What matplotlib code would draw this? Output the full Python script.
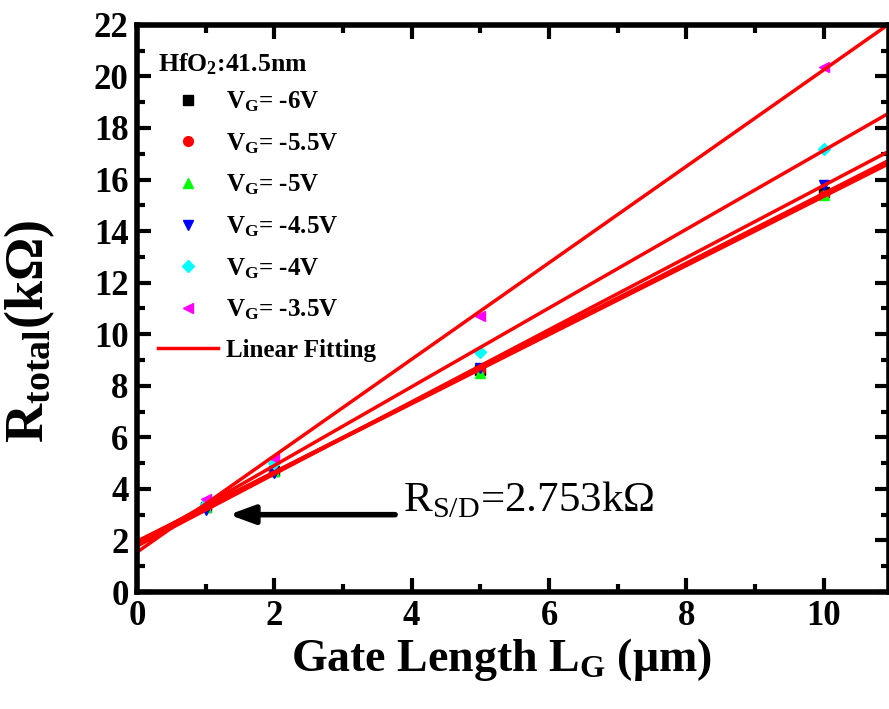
import numpy as np
import matplotlib
matplotlib.use('Agg')
import matplotlib.pyplot as plt
from matplotlib.ticker import MultipleLocator

plt.rcParams['font.family'] = ['Liberation Serif', 'DejaVu Serif']
plt.rcParams['font.weight'] = 'bold'
plt.rcParams['mathtext.fontset'] = 'custom'
plt.rcParams['mathtext.rm'] = 'Liberation Serif:bold'
plt.rcParams['mathtext.bf'] = 'Liberation Serif:bold'
plt.rcParams['mathtext.it'] = 'Liberation Serif:bold'

# gate length (um)
lg = [1, 2, 5, 10]
# total resistance (kOhm) for each gate voltage
r_6 = [3.3, 4.7, 8.6, 15.5]
r_55 = [3.3, 4.7, 8.6, 15.4]
r_5 = [3.3, 4.7, 8.5, 15.4]
r_45 = [3.2, 4.6, 8.7, 15.8]
r_4 = [3.4, 5.0, 9.3, 17.2]
r_35 = [3.6, 5.2, 10.7, 20.35]

labels = ['V$_\\mathrm{G}$= -6V', 'V$_\\mathrm{G}$= -5.5V', 'V$_\\mathrm{G}$= -5V',
          'V$_\\mathrm{G}$= -4.5V', 'V$_\\mathrm{G}$= -4V', 'V$_\\mathrm{G}$= -3.5V']
series = [r_6, r_55, r_5, r_45, r_4, r_35]
colors = ['black', 'red', 'lime', 'blue', 'cyan', 'magenta']
markers = ['s', 'o', '^', 'v', 'D', '<']

fig = plt.figure(figsize=(8.89, 7.09), dpi=100)
ax = fig.add_axes([0.154, 0.165, 0.846, 0.8])

xfit = np.linspace(0, 11, 50)
for y, c, m, lab in zip(series, colors, markers, labels):
    ax.plot(lg, y, linestyle='none', marker=m, color=c,
            markersize=7 if m != 'D' else 6, label=lab)
for i, y in enumerate(series):
    k, b = np.polyfit(lg, y, 1)
    ax.plot(xfit, k * xfit + b, color='red', lw=2.5,
            label='Linear Fitting' if i == 0 else None)

ax.set_xlim(0, 10.95)
ax.set_ylim(0, 22)
ax.xaxis.set_major_locator(MultipleLocator(2))
ax.xaxis.set_minor_locator(MultipleLocator(1))
ax.yaxis.set_major_locator(MultipleLocator(2))
ax.yaxis.set_minor_locator(MultipleLocator(1))
ax.tick_params(which='both', direction='in', top=True, right=True,
               width=3, labelsize=25, pad=6)
ax.tick_params(which='major', length=10)
ax.tick_params(which='minor', length=6)
for sp in ax.spines.values():
    sp.set_linewidth(4)
for t in ax.get_xticklabels() + ax.get_yticklabels():
    t.set_fontweight('bold')

ax.set_xlabel('Gate Length L$_\\mathrm{G}$ (\u03bcm)', fontsize=33, fontweight='bold')
ax.xaxis.set_label_coords(0.485, -0.078)
ax.set_ylabel('R$_\\mathrm{total}$(k\u03a9)', fontsize=39, fontweight='bold')
ax.yaxis.set_label_coords(-0.106, 0.46)

h, l = ax.get_legend_handles_labels()
leg = ax.legend(h, l, loc='upper left', bbox_to_anchor=(0.012, 0.975),
                title='HfO$_\\mathrm{2}$:41.5nm',
                frameon=False, fontsize=18, title_fontsize=18.5,
                labelspacing=0.68, handletextpad=0.3, borderaxespad=0,
                borderpad=0.5, handlelength=2.4)
leg._legend_box.align = 'left'
leg._legend_box.sep = 9
for t in leg.get_texts():
    t.set_fontweight('bold')
leg.get_title().set_fontweight('bold')

ax.annotate('', xy=(1.3, 3.0), xytext=(3.8, 3.0),
            arrowprops=dict(arrowstyle='-|>,head_length=1.5,head_width=0.55',
                            color='black', lw=4))
ax.text(3.87, 3.55, 'R$_\\mathregular{S/D}$=2.753k\u03a9', fontsize=31,
        fontweight='normal', va='center', ha='left',
        math_fontfamily='dejavuserif')

fig.savefig('out.png', dpi=100)
